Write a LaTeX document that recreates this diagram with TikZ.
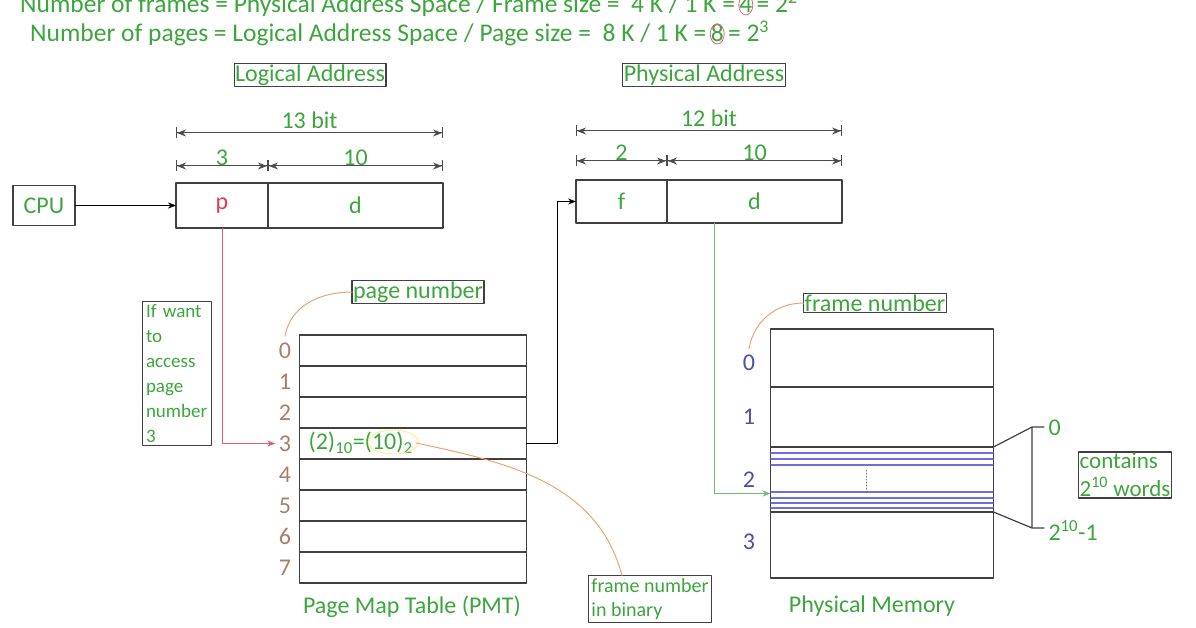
\documentclass[tikz,border=0pt]{standalone}
\usepackage{fontspec}
\setmainfont{Carlito}
\usetikzlibrary{positioning,arrows.meta}
\definecolor{txtgreen}{RGB}{60,165,60}
\definecolor{pred}{RGB}{225,60,85}
\definecolor{lead}{RGB}{232,165,115}
\definecolor{pnumcol}{RGB}{170,125,105}
\definecolor{fnumcol}{RGB}{75,80,165}
\definecolor{wordcol}{RGB}{110,110,225}
\definecolor{gline}{RGB}{110,190,120}
\begin{document}
\begin{tikzpicture}[>={Stealth[length=8pt,width=6pt]},line join=round,line cap=round,x=1pt,y=-1pt,
	box/.style={draw=black!75,line width=1.2pt,outer sep=0pt,inner sep=1pt},
	lbl/.style={text=txtgreen,font=\fontsize{24}{28}\selectfont},
	head/.style={text=txtgreen,font=\fontsize{25.5}{28}\selectfont,inner sep=0pt},
	note/.style={text=txtgreen,align=left,inner sep=3pt},
	field/.style={box,minimum height=45pt,font=\fontsize{24}{28}\selectfont},
	pmtrow/.style={box,minimum width=227pt,minimum height=31pt},
	memframe/.style={box,minimum width=223pt},
	pnum/.style={text=pnumcol,font=\fontsize{24}{28}\selectfont},
	fnum/.style={text=fnumcol,font=\fontsize{24}{28}\selectfont},
	dimline/.style={{Bar[width=11pt]Stealth[length=9pt,width=7pt]}-{Stealth[length=9pt,width=7pt]Bar[width=11pt]},black!70,line width=1pt},
	leader/.style={draw=lead,line width=1pt},
	]
	\useasboundingbox (0,0) rectangle (1196,628);
	% formulas on top
	\node[head,anchor=base west] (h1) at (20,13) {Number of frames = Physical Address Space / Frame size =\ \ 4 K / 1 K =};
	\node[head,anchor=base west,inner xsep=4pt] (c1) at (h1.base east) {4};
	\node[head,anchor=base west] (e1) at (c1.base east) {= 2\textsuperscript{2}};
	\node[head,anchor=base west] (h2) at (30,42) {Number of pages = Logical Address Space / Page size =\ \ 8 K / 1 K =};
	\node[head,anchor=base west,inner xsep=4pt] (c2) at (h2.base east) {8};
	\node[head,anchor=base west] (e2) at (c2.base east) {= 2\textsuperscript{3}};
	\draw[pred!80,line width=0.8pt] ([yshift=8pt]c1.base) ellipse (7pt and 10pt);
	\draw[pred!80,line width=0.8pt] ([yshift=8pt]c2.base) ellipse (7pt and 10pt);
	% logical address
	\node[box,lbl] (laddr) at (310,75) {Logical Address};
	\node[field,minimum width=92pt] (lp) at (222,205.5) {\color{pred}p};
	\node[field,minimum width=175pt,right=0pt of lp] (ld) {\color{txtgreen}d};
	\node[box,lbl,minimum width=62pt,minimum height=40pt] (cpu) at (44,205.5) {CPU};
	\draw[->] (cpu) -- (lp);
	\draw[dimline] ([yshift=50pt]lp.north west) -- ([yshift=50pt]ld.north east)
	node[midway,above,lbl] {13 bit};
	\draw[dimline] ([yshift=17pt]lp.north west) -- ([yshift=17pt]lp.north east)
	node[midway,above=-3pt,lbl] {3};
	\draw[dimline] ([yshift=17pt]ld.north west) -- ([yshift=17pt]ld.north east)
	node[midway,above=-3pt,lbl] {10};
	% physical address
	\node[box,lbl] (paddr) at (704,75) {Physical Address};
	\node[field,minimum width=91pt,minimum height=43pt] (pf) at (621.5,201.5) {\color{txtgreen}f};
	\node[field,minimum width=175pt,minimum height=43pt,right=0pt of pf] (pd) {\color{txtgreen}d};
	\draw[dimline] ([yshift=49pt]pf.north west) -- ([yshift=49pt]pd.north east)
	node[midway,above,lbl] {12 bit};
	\draw[dimline] ([yshift=19pt]pf.north west) -- ([yshift=19pt]pf.north east)
	node[midway,above=-3pt,lbl] {2};
	\draw[dimline] ([yshift=19pt]pd.north west) -- ([yshift=19pt]pd.north east)
	node[midway,above=-3pt,lbl] {10};
	% page map table
	\foreach \i in {0,...,7}{
		\node[pmtrow] (r\i) at (413,350.5+31*\i) {};
		\node[pnum] (n\i) at (285,350.5+31*\i) {\i};
	}
	\node[lbl,anchor=west] (bin) at (305,443) {(2)\textsubscript{10}=(10)\textsubscript{2}};
	\draw[yellow!70!orange!45,line width=0.8pt] ([xshift=-23pt,yshift=1pt]bin.east) ellipse (25pt and 12pt);
	\node[lbl] (pmt) at (412,607) {Page Map Table (PMT)};
	\node[box,lbl] (pgnum) at (418,292) {page number};
	\draw[leader] ([yshift=3pt]n0.north) to[out=80,in=180] (pgnum.west);
	\node[box,note,font=\fontsize{19}{25}\selectfont,text width=62pt,inner xsep=3.5pt] (want) at (177,373.5) {If want\\to\\access\\page\\number\\3};
	\node[box,note,font=\fontsize{20}{24}\selectfont] (binfo) at (650,599) {frame number\\in binary};
	\draw[leader] (bin.east) to[out=-12,in=105] ([xshift=-28pt]binfo.north);
	% physical memory
	\foreach \i/\y/\h in {0/358/58,1/417/60,2/479.5/65,3/545/66}
	\node[memframe,minimum height=\h pt] (fr\i) at (882,\y) {};
	\foreach \i/\y in {0/363,1/417,2/480,3/542}
	\node[fnum] (f\i) at (749,\y) {\i};
	\foreach \y in {453,459,465,492,498,503,508}
	\draw[wordcol,line width=1.1pt] (771,\y) -- (993,\y);
	\draw[dotted,black!55,line width=1pt] (866,470) -- (866,492);
	\node[box,lbl] (frnum) at (875,303) {frame number};
	\draw[leader] ([yshift=3pt]f0.north) to[out=80,in=180] (frnum.west);
	\node[lbl] (pm) at (872,606) {Physical Memory};
	% connectors
	\draw[->,pred!85,line width=1pt] (lp.south) |- (n3.west);
	\draw[->,line width=1pt] (r3.east) -- ++(31,0) |- (pf.west);
	\draw[->,gline,line width=1pt] ([xshift=-40pt]pd.south) |- ([yshift=-14pt]fr2.west);
	% one frame = 2^10 words
	\draw[black!75,line width=1.2pt] (fr2.north east) -- (1032,427) -- (1044,427)
	(1032,427) -- (1032,528) -- (1044,528) (1032,528) -- (fr2.south east);
	\node[lbl,anchor=west] (w0) at (1045,428) {0};
	\node[lbl,anchor=west] (wn) at (1045,531) {2\textsuperscript{10}-1};
	\node[box,lbl,align=left,font=\fontsize{23}{28}\selectfont] (cont) at (1125,475) {contains\\2\textsuperscript{10} words};
\end{tikzpicture}
\end{document}
